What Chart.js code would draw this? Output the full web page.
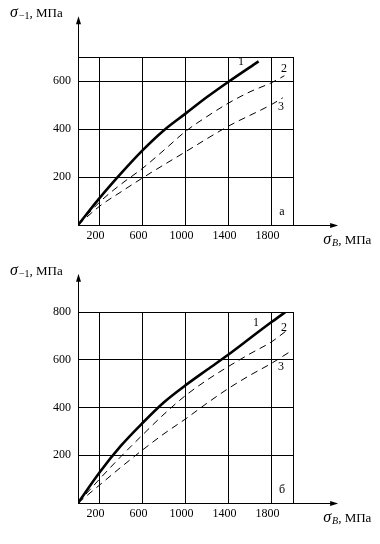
<!DOCTYPE html>
<html><head><meta charset="utf-8">
<script src="https://cdn.jsdelivr.net/npm/chart.js@4.4.0/dist/chart.umd.min.js"></script>
<style>
html,body{margin:0;padding:0;background:#fff;width:380px;height:544px;overflow:hidden}
.c{position:absolute;left:0;width:380px}
</style></head><body>
<div class="c" style="top:0;height:260px"><canvas id="ca" width="380" height="260"></canvas></div>
<div class="c" style="top:260px;height:284px"><canvas id="cb" width="380" height="284"></canvas></div>
<script>
// ---- data: panel а ----
const aX1 = [0,200,400,600,800,1000,1200,1400,1680];
const aY1 = [0,112,215,311,395,464,533,597,682];
const aX2 = [0,200,400,600,800,1000,1200,1400,1600,1800,1920];
const aY2 = [0,95,170,236,312,390,452,508,555,593,622];
const aX3 = [0,200,400,600,1000,1400,1800,1905];
const aY3 = [0,78,138,196,305,412,502,530];
// ---- data: panel б ----
const bX1 = [0,200,400,600,800,1000,1200,1400,1600,1800,1930];
const bY1 = [0,128,240,335,422,493,558,622,690,758,800];
const bX2 = [0,200,400,600,800,1000,1200,1400,1600,1800,1940];
const bY2 = [0,100,195,285,372,450,515,572,625,675,722];
const bX3 = [0,200,400,600,800,1000,1200,1400,1600,1800,1970];
const bY3 = [0,75,150,222,290,352,418,480,535,585,633];
// ---- ticks / ranges ----
const xTicks = [200,600,1000,1400,1800];
const xMax = 2000, xArrow = 2420;
const aYTicks = [200,400,600], aYMax = 700, aYArrow = 870;
const bYTicks = [200,400,600,800], bYMax = 800, bYArrow = 960;
// curve number labels [text, x, y]
const aNotes = [['1',1516,680],['2',1916,651],['3',1888,492],['а',1898,55]];
const bNotes = [['1',1656,753],['2',1916,732],['3',1888,569],['б',1898,54]];

const pts = (xs, ys) => xs.map((v,i)=>({x:v,y:ys[i]}));
const SERIF = '"Liberation Serif", "Times New Roman", serif';

function decoPlugin(yArrow, notes){
  return {
    id:'deco',
    afterDraw(chart){
      const {ctx, scales:{x,y}} = chart;
      const x0 = Math.round(x.getPixelForValue(0))+0.5, y0 = Math.round(y.getPixelForValue(0))+0.5;
      const yt = y.getPixelForValue(yArrow), xr = x.getPixelForValue(xArrow);
      ctx.save();
      ctx.strokeStyle='#000'; ctx.fillStyle='#000'; ctx.lineWidth=1;
      ctx.beginPath(); ctx.moveTo(x0,y0); ctx.lineTo(x0,yt+4); ctx.stroke();
      ctx.beginPath(); ctx.moveTo(x0,y0); ctx.lineTo(xr-4,y0); ctx.stroke();
      ctx.beginPath(); ctx.moveTo(x0,yt); ctx.lineTo(x0-2.5,yt+8); ctx.lineTo(x0+2.5,yt+8); ctx.closePath(); ctx.fill();
      ctx.beginPath(); ctx.moveTo(xr,y0); ctx.lineTo(xr-8,y0-2.5); ctx.lineTo(xr-8,y0+2.5); ctx.closePath(); ctx.fill();
      // y title
      ctx.textAlign='left'; ctx.textBaseline='alphabetic';
      let tx = 10, ty = yt + 1;
      ctx.font = 'italic 16px ' + SERIF; ctx.fillText('σ', tx, ty); tx += ctx.measureText('σ').width + 1;
      ctx.font = '10px ' + SERIF; ctx.fillText('−1', tx, ty+2); tx += ctx.measureText('−1').width;
      ctx.font = '13px ' + SERIF; ctx.fillText(', МПа', tx, ty);
      // x title
      tx = xr - 15; ty = y0 + 18;
      ctx.font = 'italic 16px ' + SERIF; ctx.fillText('σ', tx, ty); tx += ctx.measureText('σ').width + 1;
      ctx.font = 'italic 10px ' + SERIF; ctx.fillText('B', tx, ty+2); tx += ctx.measureText('B').width;
      ctx.font = '13px ' + SERIF; ctx.fillText(', МПа', tx, ty);
      // curve notes
      ctx.textAlign='center'; ctx.textBaseline='middle';
      ctx.font = '12px ' + SERIF;
      notes.forEach(([t,vx,vy])=>ctx.fillText(t, x.getPixelForValue(vx), y.getPixelForValue(vy)));
      ctx.restore();
    }
  };
}

function make(id, series, yTicks, yMax, yArrow, notes, padTop, xH){
  const styles = [
    {borderWidth:2.6, borderDash:[]},
    {borderWidth:1, borderDash:[7,5]},
    {borderWidth:1, borderDash:[7,5]}
  ];
  const yVals = Array.from(new Set([0,...yTicks,yMax]));
  new Chart(document.getElementById(id), {
    type:'line',
    data:{datasets: series.map((s,i)=>({
      data: pts(s[0], s[1]), borderColor:'#000', borderWidth:styles[i].borderWidth,
      borderDash:styles[i].borderDash, pointRadius:0, fill:false,
      cubicInterpolationMode:'monotone'
    }))},
    options:{
      responsive:false, animation:false, devicePixelRatio:1,
      layout:{padding:{top:padTop, right:87, left:0, bottom:0}},
      plugins:{legend:{display:false}, tooltip:{enabled:false}},
      scales:{
        x:{type:'linear', min:0, max:xMax,
          afterBuildTicks(s){ s.ticks = [0,...xTicks,xMax].map(v=>({value:v})); },
          afterFit(s){ s.height = xH; },
          grid:{color:'#000', lineWidth:1, drawTicks:false},
          border:{display:true, color:'#000', width:1},
          ticks:{color:'#000', font:{family:SERIF, size:12}, padding:4, labelOffset:-4, maxRotation:0, autoSkip:false,
            callback:(v)=> xTicks.includes(v) ? String(v) : ''}
        },
        y:{type:'linear', min:0, max:yMax,
          afterBuildTicks(s){ s.ticks = yVals.map(v=>({value:v})); },
          afterFit(s){ s.width = 78; },
          grid:{color:'#000', lineWidth:1, drawTicks:false},
          border:{display:true, color:'#000', width:1},
          ticks:{color:'#000', font:{family:SERIF, size:12}, padding:7, autoSkip:false,
            callback:(v)=> yTicks.includes(v) ? String(v) : ''}
        }
      }
    },
    plugins:[decoPlugin(yArrow, notes)]
  });
}

make('ca', [[aX1,aY1],[aX2,aY2],[aX3,aY3]], aYTicks, aYMax, aYArrow, aNotes, 57, 35);
make('cb', [[bX1,bY1],[bX2,bY2],[bX3,bY3]], bYTicks, bYMax, bYArrow, bNotes, 52, 41);
</script>
</body></html>
